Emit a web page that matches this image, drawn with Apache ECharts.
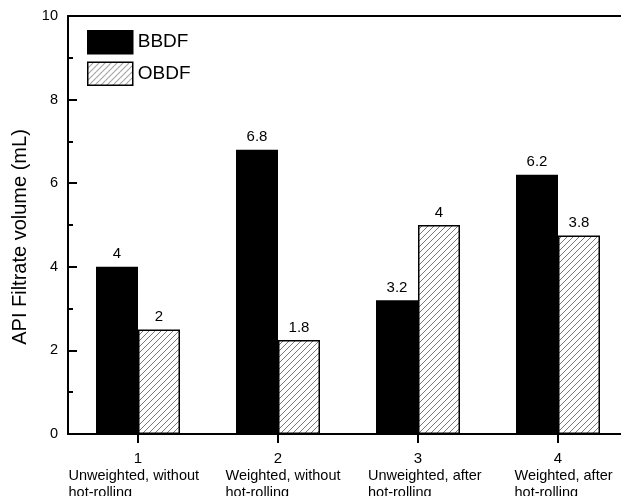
<!DOCTYPE html>
<html>
<head>
<meta charset="utf-8">
<script src="https://cdn.jsdelivr.net/npm/echarts@6/dist/echarts.min.js"></script>
<style>html,body{margin:0;padding:0;background:#fff}#c{width:621px;height:496px}</style>
</head>
<body>
<div id="c"></div>
<script>
var categories = ['1', '2', '3', '4'];
var descLine1 = ['Unweighted, without', 'Weighted, without', 'Unweighted, after', 'Weighted, after'];
var descLine2 = ['hot-rolling', 'hot-rolling', 'hot-rolling', 'hot-rolling'];
var bbdfValues = [4.0, 6.8, 3.2, 6.2];
var obdfValues = [2.5, 2.25, 5.0, 4.75];
var bbdfLabels = ['4', '6.8', '3.2', '6.2'];
var obdfLabels = ['2', '1.8', '4', '3.8'];
var yTicks = [0, 2, 4, 6, 8, 10];

var FONT = '"Liberation Sans", Arial, sans-serif';
// horizontal nudge (px) of each description block relative to its tick (style only)
var descShift = [-4, 5, 7, 6];

// hatch pattern
var tile = document.createElement('canvas');
tile.width = 6; tile.height = 6;
var tc = tile.getContext('2d');
tc.fillStyle = '#fff'; tc.fillRect(0, 0, 6, 6);
tc.strokeStyle = '#555'; tc.lineWidth = 0.8;
tc.beginPath();
tc.moveTo(-1, 7); tc.lineTo(7, -1);
tc.moveTo(-1, 1); tc.lineTo(1, -1);
tc.moveTo(5, 7); tc.lineTo(7, 5);
tc.stroke();
var hatch = { image: tile, repeat: 'repeat' };

var DESC_SIZE = 14.5;
var mc = document.createElement('canvas').getContext('2d');
mc.font = DESC_SIZE + 'px ' + FONT;
var rich = { n: { fontSize: 15, fontFamily: FONT, color: '#000', lineHeight: 17 } };
descLine1.forEach(function (t, i) {
  var s = descShift[i];
  rich['d' + i] = {
    fontSize: DESC_SIZE, fontFamily: FONT, color: '#000', lineHeight: 17, align: 'left',
    width: Math.ceil(mc.measureText(t).width),
    padding: s >= 0 ? [0, 0, 0, 2 * s] : [0, -2 * s, 0, 0]
  };
});

var chart = echarts.init(document.getElementById('c'), null, { renderer: 'canvas' });
chart.setOption({
  animation: false,
  backgroundColor: '#fff',
  grid: { left: 68, top: 16, width: 560, height: 418, containLabel: false, outerBoundsMode: 'none' },
  legend: {
    left: 87, top: 30, padding: 0, orient: 'vertical', itemWidth: 45, itemHeight: 23, itemGap: 7, icon: 'rect',
    textStyle: { fontSize: 19, fontFamily: FONT, color: '#000' },
    data: [
      { name: 'BBDF', itemStyle: { color: '#000', borderColor: '#000', borderWidth: 1.5 } },
      { name: 'OBDF', itemStyle: { color: hatch, borderColor: '#000', borderWidth: 1.5 } }
    ]
  },
  xAxis: [{
    type: 'category', data: categories, position: 'bottom',
    axisLine: { lineStyle: { color: '#000', width: 2 } },
    axisTick: { show: true, alignWithLabel: true, length: 9, lineStyle: { color: '#000', width: 2 } },
    axisLabel: {
      margin: 16, interval: 0,
      formatter: function (v, i) { return '{n|' + v + '}\n{d' + i + '|' + descLine1[i] + '}\n{d' + i + '|' + descLine2[i] + '}'; },
      rich: rich
    },
    splitLine: { show: false }
  }, {
    type: 'category', data: categories, position: 'top',
    axisLine: { lineStyle: { color: '#000', width: 2 } },
    axisTick: { show: false }, axisLabel: { show: false }
  }],
  yAxis: {
    type: 'value', min: yTicks[0], max: yTicks[yTicks.length - 1], interval: 2,
    name: 'API Filtrate volume (mL)', nameLocation: 'middle', nameGap: 37,
    nameTextStyle: { fontSize: 20, fontFamily: FONT, color: '#000', padding: [0, 24, 0, 0] },
    axisLine: { show: true, lineStyle: { color: '#000', width: 2 } },
    axisTick: { show: true, inside: true, length: 9, lineStyle: { color: '#000', width: 2 } },
    minorTick: { show: true, splitNumber: 2, length: 5, lineStyle: { color: '#000', width: 2 } },
    axisLabel: { fontSize: 14.5, fontFamily: FONT, color: '#000', margin: 10 },
    splitLine: { show: false }
  },
  series: [{
    name: 'BBDF', type: 'bar', data: bbdfValues, barWidth: 42, barGap: '0%',
    itemStyle: { color: '#000', borderColor: '#000', borderWidth: 1.5 },
    label: { show: true, position: 'top', distance: 5, fontSize: 15, fontFamily: FONT, color: '#000',
      formatter: function (p) { return bbdfLabels[p.dataIndex]; } }
  }, {
    name: 'OBDF', type: 'bar', data: obdfValues, barWidth: 42, barGap: '0%',
    itemStyle: { color: hatch, borderColor: '#000', borderWidth: 1.5 },
    label: { show: true, position: 'top', distance: 5, fontSize: 15, fontFamily: FONT, color: '#000',
      formatter: function (p) { return obdfLabels[p.dataIndex]; } }
  }]
});
</script>
</body>
</html>
